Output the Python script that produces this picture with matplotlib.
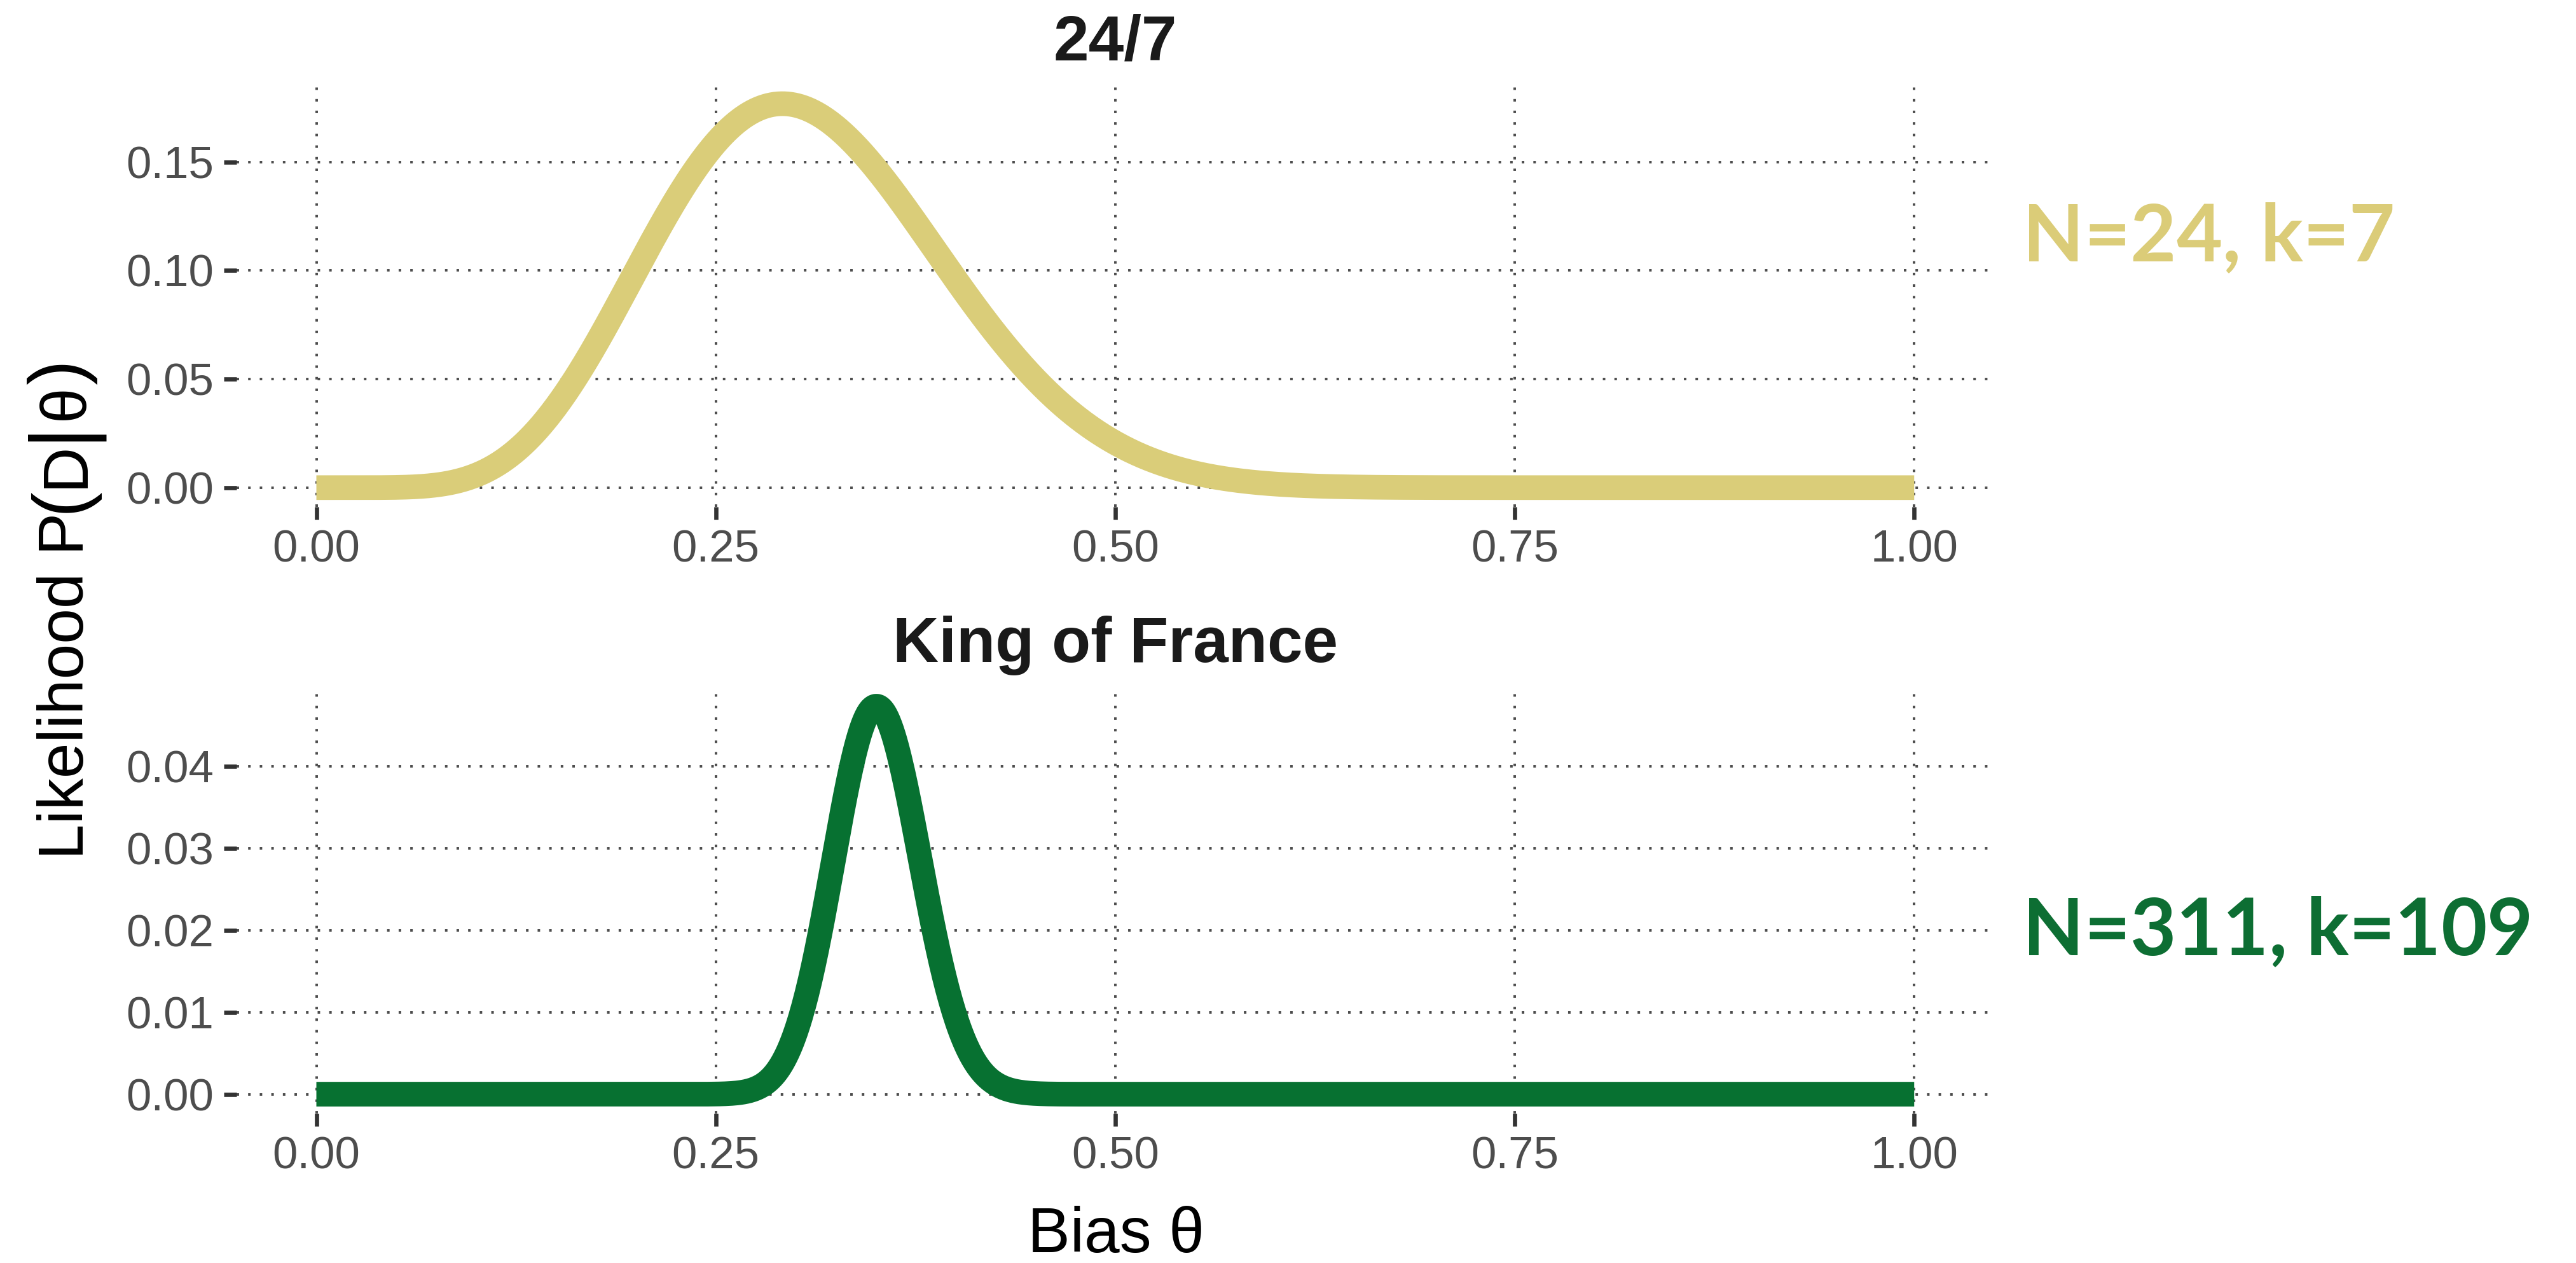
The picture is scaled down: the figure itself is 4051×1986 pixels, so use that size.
import math
import numpy as np
import matplotlib
matplotlib.use("Agg")
import matplotlib.pyplot as plt
import matplotlib.transforms as mtransforms
from matplotlib.font_manager import FontProperties, findfont
from matplotlib.ft2font import FT2Font

# Binomial likelihood of the coin bias for two data sets
panel_titles = ["24/7", "King of France"]
trials_N = [24, 311]
successes_k = [7, 109]
line_colors = ["#DACD79", "#077131"]
label_colors = ["#DBCC78", "#0D6E33"]
x_ticks = [0.00, 0.25, 0.50, 0.75, 1.00]
y_ticks = [[0.00, 0.05, 0.10, 0.15], [0.00, 0.01, 0.02, 0.03, 0.04]]

theta = np.linspace(0.0, 1.0, 1001)


def likelihood(n, k, t):
    return math.comb(n, k) * t ** k * (1.0 - t) ** (n - k)


plt.rcParams["font.family"] = ["Liberation Sans", "DejaVu Sans"]

W, H, DPI = 4051, 1986, 300
fig = plt.figure(figsize=(W / DPI, H / DPI), dpi=DPI)

left, width = 0.0918, 0.6823
axes_boxes = [(left, 0.5987, width, 0.3344), (left, 0.1183, width, 0.3379)]

grid_kw = dict(color="#4d4d4d", linewidth=0.95, linestyle=(0, (1, 3.6)))


def font_file(fp):
    return FT2Font(findfont(fp))


def tabular_label(x, y, s, color, size):
    """Write s in Lato Bold with equal-width digit cells, starting at x."""
    fp = FontProperties(family="Lato", weight="bold", size=size)
    ft = font_file(fp)
    ft.set_size(size, 72)

    def advance(c):
        return ft.load_char(ord(c)).linearHoriAdvance / 65536.0

    cell = advance("0")
    offset = 0.0
    for c in s:
        w = cell if c.isdigit() else advance(c)
        if c != " ":
            tr = fig.transFigure + mtransforms.ScaledTranslation(
                (offset + w / 2.0) / 72.0, 0, fig.dpi_scale_trans)
            fig.text(x, y, c, transform=tr, fontproperties=fp, color=color,
                     ha="center", va="baseline")
        offset += w


def vertical_label(x, y, pieces, size):
    """Rotated axis title; enlarged delimiters are centred on the capitals."""
    fp0 = FontProperties(family="Liberation Sans", size=size)
    ft = font_file(fp0)
    ft.set_size(size, 72)
    b = ft.load_char(ord("D")).bbox
    cap_mid = (b[1] + b[3]) / 2.0 / 64.0
    offset = 0.0
    for text, scale in pieces:
        s = size * scale
        ft.set_size(s, 72)
        adv = sum(ft.load_char(ord(c)).linearHoriAdvance / 65536.0
                  for c in text)
        shift = 0.0
        if scale != 1.0:
            g = ft.load_char(ord(text[0])).bbox
            shift = cap_mid - (g[1] + g[3]) / 2.0 / 64.0
        tr = fig.transFigure + mtransforms.ScaledTranslation(
            -shift / 72.0, offset / 72.0, fig.dpi_scale_trans)
        fig.text(x, y, text, transform=tr, fontsize=s, rotation=90,
                 rotation_mode="anchor", ha="left", va="baseline",
                 color="black", family=["Liberation Sans", "DejaVu Sans"])
        offset += adv


for i, box in enumerate(axes_boxes):
    ax = fig.add_axes(box)
    y = likelihood(trials_N[i], successes_k[i], theta)
    ax.plot(theta, y, color=line_colors[i], linewidth=9.3,
            solid_capstyle="butt", solid_joinstyle="round", zorder=3)
    ymax = y.max()
    ax.set_xlim(-0.05, 1.05)
    ax.set_ylim(-0.05 * ymax, 1.05 * ymax)
    ax.set_xticks(x_ticks)
    ax.set_xticklabels([f"{v:.2f}" for v in x_ticks])
    ax.set_yticks(y_ticks[i])
    ax.set_yticklabels([f"{v:.2f}" for v in y_ticks[i]])
    ax.grid(True, **grid_kw)
    ax.set_axisbelow(True)
    for s in ax.spines.values():
        s.set_visible(False)
    ax.tick_params(axis="both", which="major", length=4.8, width=1.6,
                   color="#333333", labelcolor="#4D4D4D", labelsize=17,
                   pad=3.8)
    ax.set_title(panel_titles[i], fontsize=24, fontweight="bold",
                 color="#1A1A1A", pad=9.3)

label_base_y = [0.7931, 0.2437]
for i in range(2):
    tabular_label(0.7852, label_base_y[i],
                  f"N={trials_N[i]}, k={successes_k[i]}",
                  label_colors[i], 30)

fig.text(0.4331, 0.0085, "Bias θ", fontsize=24, ha="center", va="baseline",
         color="black")
vertical_label(0.0323, 0.3197,
               [("Likelihood P", 1.0), ("(", 1.19), ("D", 1.0),
                ("|", 1.32), ("θ", 1.0), (")", 1.19)], 24)

fig.savefig("out.png", dpi=DPI, facecolor="white")
